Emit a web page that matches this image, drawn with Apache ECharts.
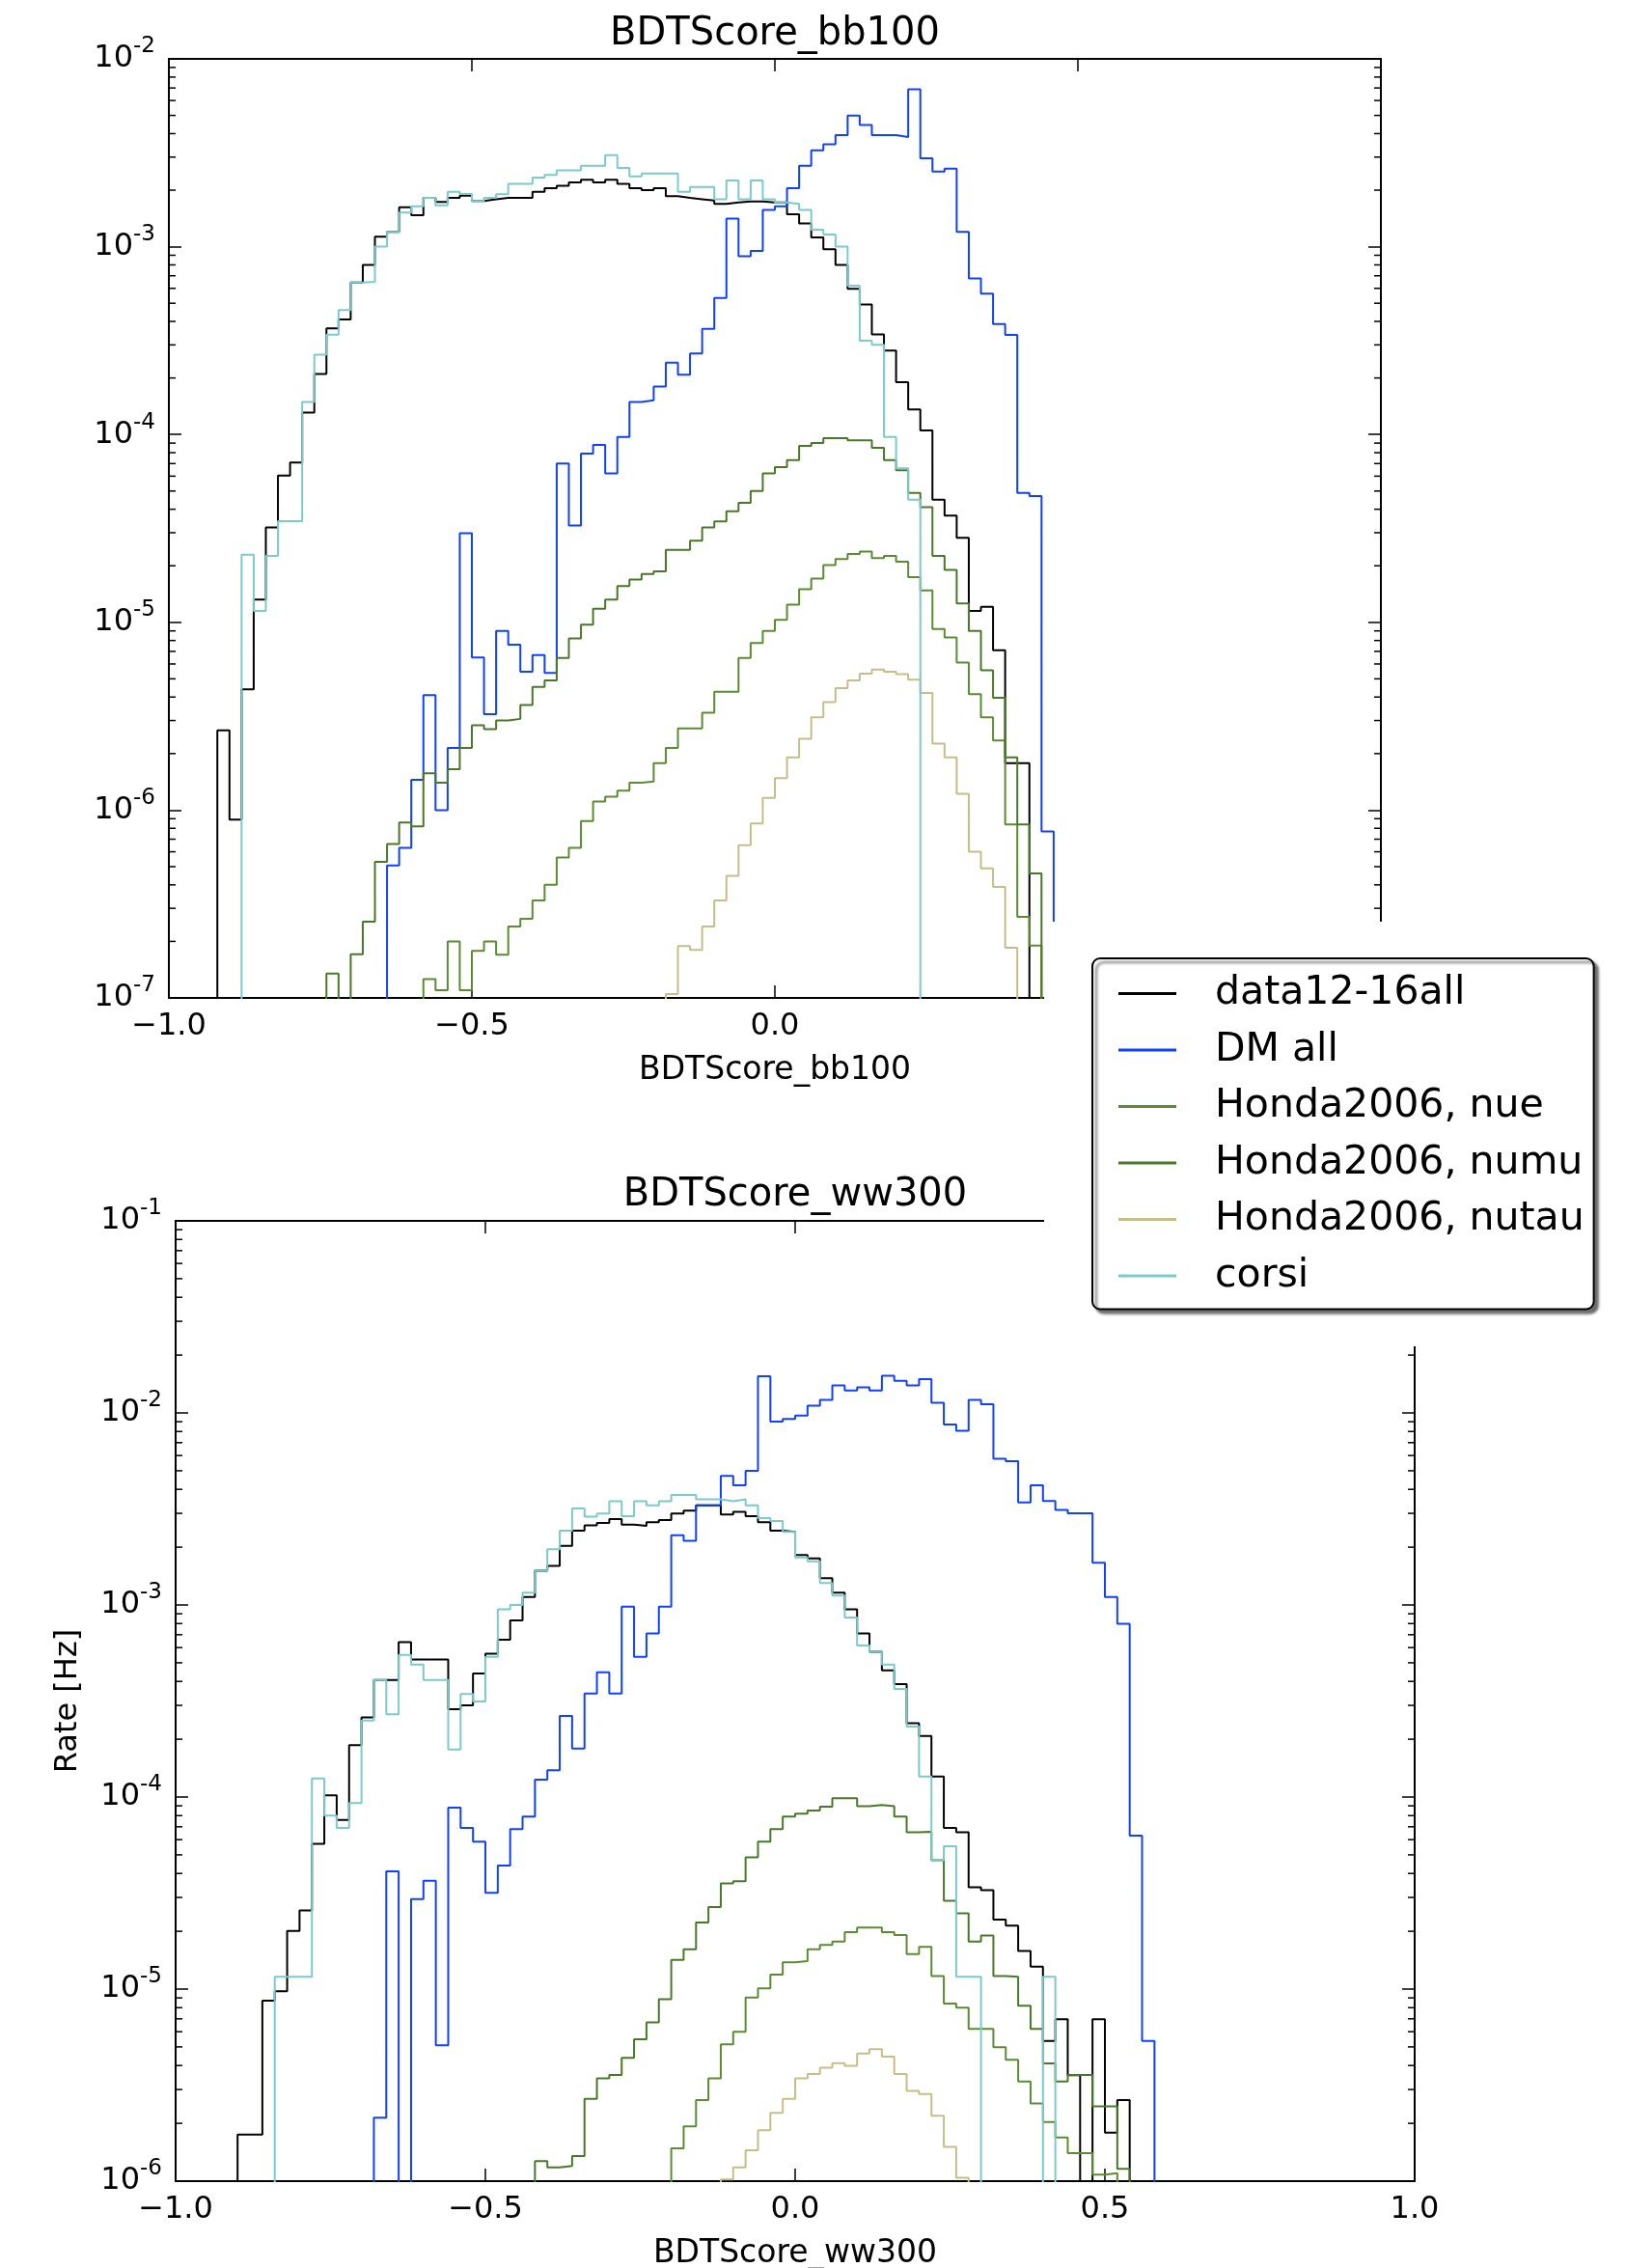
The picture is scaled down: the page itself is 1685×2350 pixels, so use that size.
<!DOCTYPE html>
<html><head><meta charset="utf-8">
<script src="https://cdn.jsdelivr.net/npm/echarts@6.0.0/dist/echarts.min.js"></script>
<style>html,body{margin:0;padding:0;background:#fff}#c{width:1685px;height:2350px}</style>
</head><body><div id="c"></div>
<script>
// ---------- binning ----------
const BIN_ORIGIN = -1.0;
const BIN_WIDTH = 0.02;
const seriesNames = ['data12-16all', 'DM all', 'Honda2006, nue', 'Honda2006, numu', 'Honda2006, nutau', 'corsi'];
const xTicks = [-1.0, -0.5, 0.0, 0.5, 1.0];

// ---------- panel 1: BDTScore_bb100 (values per 0.02 bin, starting at bin index) ----------
const bbDataStart = 4;
const bbData = [2.66e-6, 8.9e-7, 4.4e-6, 1.32e-5, 3.2e-5, 6.05e-5, 7.1e-5, 1.31e-4, 2.1e-4, 3.67e-4,
  4.1e-4, 6.45e-4, 8.0e-4, 1.13e-3, 1.2e-3, 1.62e-3, 1.47e-3, 1.82e-3, 1.73e-3, 1.82e-3,
  1.87e-3, 1.75e-3, 1.79e-3, 1.82e-3, 1.82e-3, 1.82e-3, 1.96e-3, 2.05e-3, 2.11e-3, 2.2e-3,
  2.27e-3, 2.2e-3, 2.27e-3, 2.16e-3, 2.05e-3, 2.0e-3, 2.05e-3, 1.86e-3, 1.82e-3, 1.79e-3,
  1.76e-3, 1.69e-3, 1.72e-3, 1.74e-3, 1.74e-3, 1.72e-3, 1.72e-3, 1.49e-3, 1.33e-3, 1.12e-3,
  9.7e-4, 8.0e-4, 5.97e-4, 4.92e-4, 3.41e-4, 2.8e-4, 1.9e-4, 1.36e-4, 1.05e-4, 4.5e-5,
  3.7e-5, 2.82e-5, 1.15e-5, 1.21e-5, 7.1e-6, 1.78e-6, 1.78e-6];
const bbDMStart = 18;
const bbDM = [5.07e-7, 6.3e-7, 1.45e-6, 4.1e-6, 1.0e-6, 2.14e-6, 2.98e-5,
  6.5e-6, 3.24e-6, 9.0e-6, 7.6e-6, 5.45e-6, 6.7e-6, 5.37e-6,
  7.0e-5, 3.28e-5, 7.9e-5, 8.8e-5, 6.2e-5, 9.7e-5, 1.49e-4, 1.52e-4, 1.8e-4, 2.41e-4, 2.08e-4, 2.7e-4, 3.65e-4, 5.33e-4,
  1.41e-3, 8.9e-4, 9.5e-4, 1.57e-3,
  1.64e-3, 2.05e-3, 2.7e-3, 3.26e-3, 3.51e-3, 3.93e-3, 4.99e-3, 4.45e-3, 3.93e-3, 3.93e-3, 3.84e-3,
  6.88e-3, 2.96e-3, 2.51e-3, 2.6e-3, 1.2e-3, 6.78e-4, 5.62e-4, 3.87e-4, 3.39e-4, 4.88e-5, 4.7e-5, 7.7e-7];
const bbNueStart = 21;
const bbNue = [1.26e-7, 1.1e-7, 2.0e-7, 1.1e-7, 1.78e-7, 2.0e-7, 1.7e-7, 2.4e-7, 2.64e-7, 3.3e-7,
  4.0e-7, 5.6e-7, 6.3e-7, 8.75e-7, 1.11e-6, 1.18e-6, 1.27e-6, 1.4e-6, 1.42e-6, 1.78e-6,
  2.14e-6, 2.72e-6, 2.72e-6, 3.3e-6, 4.27e-6, 4.27e-6, 6.45e-6, 7.76e-6, 9.0e-6, 1.03e-5,
  1.24e-5, 1.5e-5, 1.71e-5, 2.02e-5, 2.17e-5, 2.31e-5, 2.38e-5, 2.2e-5, 2.26e-5, 2.1e-5,
  1.74e-5, 1.48e-5, 9.2e-6, 8.3e-6, 6.1e-6, 4.14e-6, 3.12e-6, 2.35e-6, 8.4e-7, 2.7e-7, 1.9e-7];
const bbNumuStart = 13;
const bbNumu = [1.35e-7, 0, 1.71e-7, 2.55e-7, 5.3e-7, 6.6e-7, 8.6e-7, 8.2e-7, 1.57e-6, 1.4e-6, 1.65e-6, 2.14e-6,
  2.83e-6, 2.7e-6, 3.0e-6, 3.06e-6, 3.63e-6, 4.53e-6, 4.9e-6, 6.45e-6, 8.2e-6, 9.7e-6,
  1.18e-5, 1.32e-5, 1.56e-5, 1.69e-5, 1.81e-5, 1.87e-5, 2.43e-5, 2.43e-5, 2.72e-5, 3.2e-5,
  3.45e-5, 3.9e-5, 4.33e-5, 5.0e-5, 6.2e-5,
  6.7e-5, 7.3e-5, 8.7e-5, 9.0e-5, 9.55e-5, 9.55e-5, 9.3e-5, 9.3e-5, 8.5e-5, 7.3e-5,
  6.45e-5, 4.88e-5, 4.1e-5, 2.26e-5, 1.9e-5, 1.26e-5, 9.0e-6, 5.55e-6, 3.97e-6, 1.91e-6, 8.4e-7, 4.6e-7];
const bbNutauStart = 41;
const bbNutau = [1.05e-7, 1.89e-7, 1.8e-7, 2.4e-7, 3.3e-7, 4.47e-7, 6.5e-7, 8.5e-7, 1.16e-6, 1.48e-6,
  1.91e-6, 2.4e-6, 3.12e-6, 3.76e-6, 4.46e-6, 4.9e-6, 5.33e-6, 5.6e-6, 5.45e-6, 5.3e-6,
  4.95e-6, 4.2e-6, 2.26e-6, 1.91e-6, 1.22e-6, 6.0e-7, 4.9e-7, 3.9e-7, 1.85e-7];
const bbCorsiStart = 6;
const bbCorsi = [2.29e-5, 1.15e-5, 2.26e-5, 3.46e-5, 3.46e-5, 1.49e-4, 2.66e-4, 3.4e-4, 4.6e-4, 6.45e-4,
  6.5e-4, 1.0e-3, 1.2e-3, 1.52e-3, 1.64e-3, 1.82e-3, 1.66e-3, 1.96e-3, 1.91e-3, 1.75e-3,
  1.82e-3, 1.9e-3, 2.16e-3, 2.16e-3, 2.33e-3, 2.41e-3, 2.55e-3, 2.55e-3, 2.7e-3, 2.7e-3,
  3.07e-3, 2.63e-3, 2.37e-3, 2.45e-3, 2.45e-3, 2.45e-3, 1.96e-3, 2.08e-3, 2.08e-3, 1.79e-3,
  2.25e-3, 1.79e-3, 2.25e-3, 1.79e-3, 1.72e-3, 1.69e-3, 1.57e-3, 1.23e-3, 1.16e-3, 1.0e-3,
  6.2e-4, 3.16e-4, 3.0e-4, 9.7e-5, 6.6e-5, 4.5e-5];

// ---------- panel 2: BDTScore_ww300 ----------
const wwDataStart = 5;
const wwData = [1.75e-6, 1.75e-6, 8.7e-6, 9.75e-6, 2.01e-5, 2.57e-5, 5.7e-5, 1.02e-4, 7.6e-5, 1.86e-4,
  2.6e-4, 4.07e-4, 4.07e-4, 6.4e-4, 5.2e-4, 5.2e-4, 5.2e-4, 2.87e-4, 3.0e-4, 4.4e-4,
  5.57e-4, 6.6e-4, 8.3e-4, 1.1e-3, 1.51e-3, 1.6e-3, 2.03e-3, 2.44e-3, 2.6e-3, 2.67e-3,
  2.8e-3, 2.62e-3, 2.58e-3, 2.7e-3, 2.77e-3, 2.99e-3, 3.1e-3, 3.3e-3, 3.3e-3, 2.96e-3,
  3.05e-3, 2.9e-3, 2.7e-3, 2.44e-3, 2.4e-3, 1.82e-3, 1.75e-3, 1.38e-3, 1.16e-3, 9.5e-4,
  7.1e-4, 5.7e-4, 4.56e-4, 3.87e-4, 2.42e-4, 2.08e-4, 1.28e-4, 6.9e-5, 6.55e-5, 3.39e-5,
  3.27e-5, 2.3e-5, 2.14e-5, 1.58e-5, 1.31e-5, 5.37e-6, 6.97e-6, 3.56e-6, 0, 6.97e-6, 1.79e-6, 2.64e-6];
const wwDMStart = 16;
const wwDM = [2.14e-6, 4.1e-5, 0, 2.94e-5, 3.66e-5, 5.1e-6, 8.8e-5, 6.9e-5, 5.85e-5, 3.17e-5,
  4.4e-5, 6.8e-5, 7.9e-5, 1.23e-4, 1.38e-4, 2.64e-4, 1.79e-4, 3.46e-4, 4.46e-4, 3.46e-4,
  9.8e-4, 5.37e-4, 7.1e-4, 9.8e-4, 2.31e-3, 2.16e-3, 3.3e-3, 3.3e-3, 4.7e-3, 4.2e-3,
  5.0e-3, 1.55e-2, 9.0e-3, 9.3e-3, 9.7e-3, 1.09e-2, 1.17e-2, 1.39e-2, 1.31e-2, 1.36e-2,
  1.31e-2, 1.56e-2, 1.47e-2, 1.39e-2, 1.5e-2, 1.13e-2, 8.7e-3, 8.07e-3, 1.17e-2, 1.11e-2,
  5.77e-3, 5.6e-3, 3.42e-3, 4.2e-3, 3.48e-3, 3.13e-3, 3.0e-3, 3.0e-3, 1.66e-3, 1.1e-3, 7.97e-4, 6.3e-5, 5.37e-6];
const wwNueStart = 40;
const wwNue = [1.48e-6, 1.93e-6, 2.64e-6, 3.43e-6, 5.16e-6, 6.0e-6, 9.05e-6, 1.01e-5, 1.19e-5, 1.38e-5,
  1.4e-5, 1.61e-5, 1.7e-5, 1.77e-5, 1.98e-5, 2.09e-5, 2.09e-5, 1.98e-5, 1.91e-5, 1.52e-5,
  1.66e-5, 1.17e-5, 8.4e-6, 8.0e-6, 6.2e-6, 6.2e-6, 4.98e-6, 4.29e-6, 3.3e-6, 2.54e-6,
  2.03e-6, 1.69e-6, 1.4e-6, 1.4e-6, 1.08e-6, 1.1e-6];
const wwNumuStart = 29;
const wwNumu = [1.27e-6, 1.18e-6, 1.2e-6, 1.35e-6, 2.68e-6, 3.43e-6, 3.57e-6, 4.38e-6, 5.48e-6, 6.7e-6,
  8.85e-6, 1.42e-5, 1.61e-5, 2.22e-5, 2.67e-5, 3.55e-5, 3.64e-5, 4.85e-5, 5.85e-5, 6.8e-5,
  7.9e-5, 8.2e-5, 8.5e-5, 8.9e-5, 9.86e-5, 9.86e-5, 8.95e-5, 9.1e-5, 8.95e-5, 7.9e-5,
  6.55e-5, 6.6e-5, 4.68e-5, 2.88e-5, 2.48e-5, 1.77e-5, 1.9e-5, 1.17e-5, 1.16e-5, 8.2e-6,
  6.2e-6, 4.1e-6, 3.3e-6, 3.57e-6, 3.57e-6, 2.45e-6, 2.45e-6, 1.16e-6];
const wwNutauStart = 44;
const wwNutau = [1.02e-6, 1.18e-6, 1.45e-6, 1.84e-6, 2.27e-6, 2.68e-6, 3.43e-6, 3.61e-6, 3.89e-6, 4.12e-6,
  3.98e-6, 4.62e-6, 4.87e-6, 4.45e-6, 3.61e-6, 2.95e-6, 2.84e-6, 2.19e-6, 1.51e-6, 1.04e-6];
const wwCorsiStart = 8;
const wwCorsi = [1.16e-5, 1.16e-5, 1.16e-5, 1.25e-4, 8.0e-5, 6.9e-5, 9.3e-5, 2.5e-4, 4.07e-4, 2.7e-4,
  5.5e-4, 4.9e-4, 4.07e-4, 4.07e-4, 1.77e-4, 3.44e-4, 3.14e-4, 5.37e-4, 9.5e-4, 1.0e-3,
  1.16e-3, 1.51e-3, 1.95e-3, 2.44e-3, 3.18e-3, 2.88e-3, 2.99e-3, 3.47e-3, 2.9e-3, 3.47e-3,
  3.3e-3, 3.47e-3, 3.74e-3, 3.74e-3, 3.55e-3, 3.55e-3, 3.47e-3, 3.55e-3, 3.3e-3, 2.83e-3,
  2.74e-3, 2.4e-3, 1.77e-3, 1.69e-3, 1.3e-3, 1.12e-3, 8.6e-4, 6.15e-4, 5.7e-4, 4.9e-4,
  3.65e-4, 2.33e-4, 1.28e-4, 4.68e-5, 5.55e-5, 1.16e-5, 1.16e-5, 0, 0, 0, 0, 0, 1.16e-5];

const minorMantissas = [2, 3, 4, 5, 6, 7, 8, 9];

// ---------- styling ----------
const FONT = 'DejaVu Sans';
const colors = {
  'data12-16all': '#000000',
  'DM all': '#1240ff',
  'Honda2006, nue': '#5b8c32',
  'Honda2006, numu': '#4a782a',
  'Honda2006, nutau': '#c6be88',
  'corsi': '#7ccaca'
};
const FLOOR = 1e-12; // empty bins fall below the axis and are clipped

function edge(k) { return Math.round((BIN_ORIGIN + k * BIN_WIDTH) * 1e6) / 1e6; }
function stepPoints(start, vals) {
  const pts = [[edge(start), FLOOR]];
  vals.forEach((v, i) => pts.push([edge(start + i), v > 0 ? v : FLOOR]));
  pts.push([edge(start + vals.length), FLOOR]);
  return pts;
}
function fmtX(v) { const s = Math.abs(v).toFixed(1); return v < -1e-9 ? '\u2212' + s : s; }
function fmtY(v) { const e = Math.round(Math.log10(v)); return '{b|10}{s|' + e + '}'; }

const panels = [
  { grid: { left: 175, top: 61, width: 1256, height: 973 }, ymin: 1e-7, ymax: 1e-2,
    xname: 'BDTScore_bb100', yname: '',
    hists: [[bbDataStart, bbData], [bbDMStart, bbDM], [bbNueStart, bbNue], [bbNumuStart, bbNumu], [bbNutauStart, bbNutau], [bbCorsiStart, bbCorsi]] },
  { grid: { left: 182, top: 1265, width: 1284, height: 995 }, ymin: 1e-6, ymax: 1e-1,
    xname: 'BDTScore_ww300', yname: 'Rate [Hz]',
    hists: [[wwDataStart, wwData], [wwDMStart, wwDM], [wwNueStart, wwNue], [wwNumuStart, wwNumu], [wwNutauStart, wwNutau], [wwCorsiStart, wwCorsi]] }
];

const grids = [], xAxes = [], yAxes = [], series = [];
const axisLineStyle = { color: '#000', width: 2 };
const tickStyle = { show: true, inside: true, length: 13, lineStyle: { color: '#000', width: 1.5 } };

panels.forEach((p, gi) => {
  grids.push(Object.assign({ containLabel: false, outerBoundsMode: 'none' }, p.grid));
  const xCommon = { type: 'value', gridIndex: gi, min: xTicks[0], max: xTicks[xTicks.length - 1], interval: 0.5,
    axisLine: { show: true, onZero: false, lineStyle: axisLineStyle }, axisTick: tickStyle,
    splitLine: { show: false }, minorTick: { show: false } };
  xAxes.push(Object.assign({}, xCommon, { position: 'bottom', name: p.xname, nameLocation: 'middle', nameGap: 59,
    nameTextStyle: { fontFamily: FONT, fontSize: 33, color: '#000' },
    axisLabel: { show: true, fontFamily: FONT, fontSize: 32, color: '#000', margin: 14, formatter: fmtX, showMinLabel: true, showMaxLabel: true } }));
  xAxes.push(Object.assign({}, xCommon, { position: 'top', axisLabel: { show: false } }));
  const yCommon = { type: 'log', logBase: 10, gridIndex: gi, min: p.ymin, max: p.ymax,
    axisLine: { show: true, onZero: false, lineStyle: axisLineStyle }, axisTick: tickStyle,
    splitLine: { show: false }, minorTick: { show: false } };
  yAxes.push(Object.assign({}, yCommon, { position: 'left', name: p.yname, nameLocation: 'middle', nameGap: 95, nameRotate: 90,
    nameTextStyle: { fontFamily: FONT, fontSize: 32, color: '#000' },
    axisLabel: { show: true, margin: 14, formatter: fmtY,
      rich: { b: { fontFamily: FONT, fontSize: 32, color: '#000', lineHeight: 48 },
              s: { fontFamily: FONT, fontSize: 23, color: '#000', lineHeight: 22, verticalAlign: 'top' } } } }));
  yAxes.push(Object.assign({}, yCommon, { position: 'right', axisLabel: { show: false } }));

  p.hists.forEach((h, si) => {
    const name = seriesNames[si];
    series.push({ type: 'line', name, xAxisIndex: gi * 2, yAxisIndex: gi * 2, data: stepPoints(h[0], h[1]),
      step: 'end', symbol: 'none', showSymbol: false, clip: true, z: 2 + si * 0.01,
      color: colors[name], lineStyle: { color: colors[name], width: 2 }, emphasis: { disabled: true }, silent: true });
  });

  // logarithmic minor ticks on left and right frame edges
  const minorVals = [];
  for (let e = Math.round(Math.log10(p.ymin)); e < Math.round(Math.log10(p.ymax)); e++) {
    minorMantissas.forEach(m => minorVals.push([xTicks[0], m * Math.pow(10, e)]));
  }
  series.push({ type: 'custom', name: 'minor-ticks-' + gi, xAxisIndex: gi * 2, yAxisIndex: gi * 2, silent: true, clip: false, z: 3,
    data: minorVals,
    renderItem: (params, api) => {
      const v = api.value(1);
      const pl = api.coord([xTicks[0], v]);
      const pr = api.coord([xTicks[xTicks.length - 1], v]);
      return { type: 'group', children: [
        { type: 'line', shape: { x1: pl[0], y1: pl[1], x2: pl[0] + 7, y2: pl[1] }, style: { stroke: '#000', lineWidth: 1.5 } },
        { type: 'line', shape: { x1: pr[0], y1: pr[1], x2: pr[0] - 7, y2: pr[1] }, style: { stroke: '#000', lineWidth: 1.5 } }
      ] };
    } });
});

const chart = echarts.init(document.getElementById('c'), null, { renderer: 'canvas', width: 1685, height: 2350 });
chart.setOption({
  animation: false,
  backgroundColor: '#fff',
  textStyle: { fontFamily: FONT },
  grid: grids, xAxis: xAxes, yAxis: yAxes, series,
  legend: {
    data: seriesNames, orient: 'vertical', left: 1132, top: 993, z: 60,
    padding: [16, 10, 14, 27], itemGap: 17.5, itemWidth: 60, itemHeight: 3, icon: 'rect',
    selectedMode: false, backgroundColor: '#fff', borderColor: '#000', borderWidth: 2, borderRadius: 8,
    shadowColor: 'rgba(0,0,0,0.55)', shadowBlur: 3, shadowOffsetX: 4, shadowOffsetY: 4,
    textStyle: { fontFamily: FONT, fontSize: 41, color: '#000', lineHeight: 40, padding: [0, 0, 0, 35] }
  },
  graphic: [
    { type: 'rect', z: 50, silent: true, shape: { x: 1082, y: 955, width: 603, height: 440 }, style: { fill: '#fff' } },
    { type: 'text', z: 55, x: 803, y: 36, style: { text: 'BDTScore_bb100', font: '40px "DejaVu Sans"', fill: '#000', align: 'center', verticalAlign: 'middle', textAlign: 'center', textVerticalAlign: 'middle' } },
    { type: 'text', z: 55, x: 824, y: 1239, style: { text: 'BDTScore_ww300', font: '40px "DejaVu Sans"', fill: '#000', align: 'center', verticalAlign: 'middle', textAlign: 'center', textVerticalAlign: 'middle' } }
  ]
});
</script>
</body></html>
